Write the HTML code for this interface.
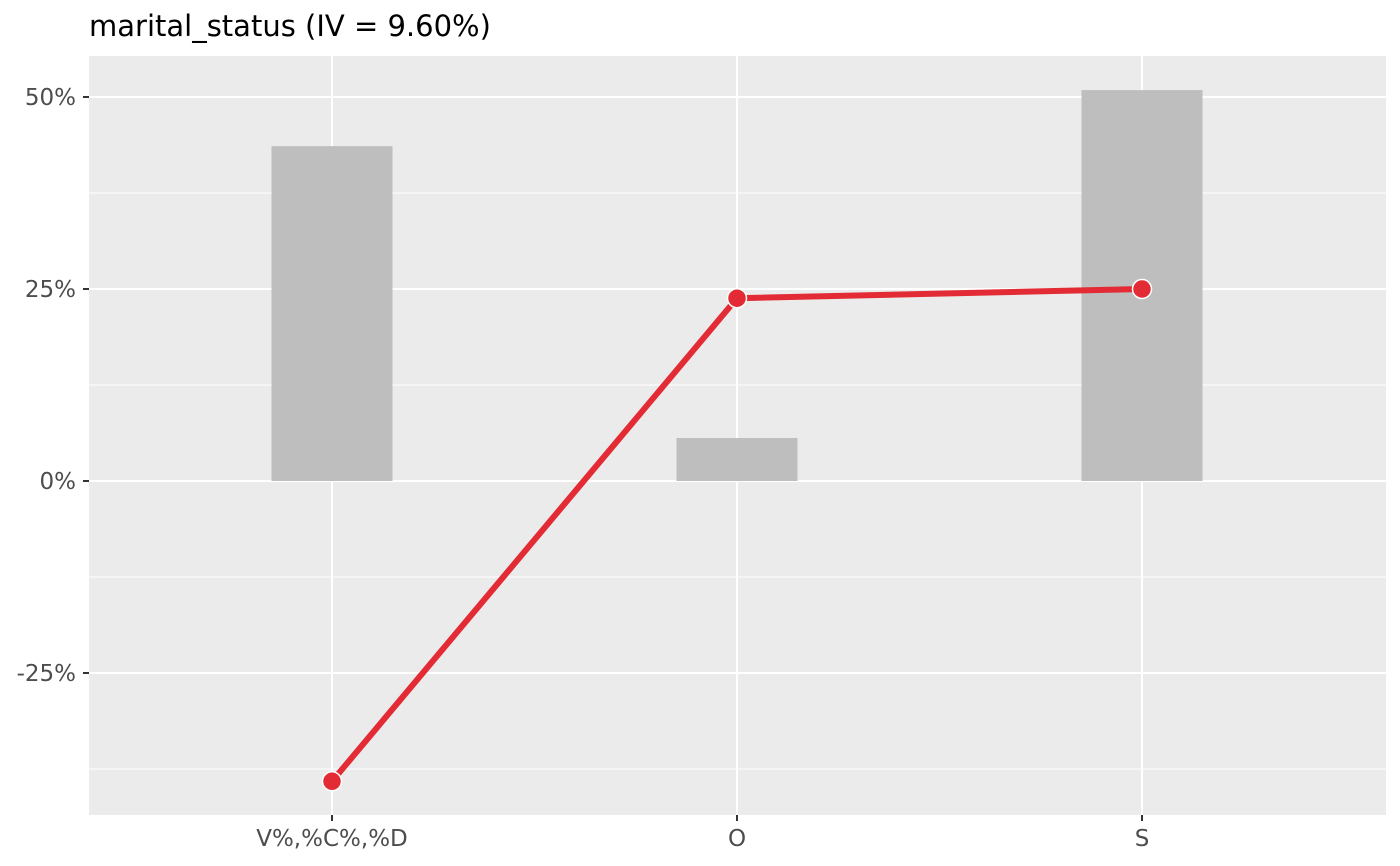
<!DOCTYPE html>
<html><head><meta charset="utf-8"><style>
body{margin:0;background:#fff;}
svg{display:block;font-family:"DejaVu Sans","Liberation Sans",sans-serif;}
</style></head><body>
<svg id="chart" width="1400" height="866">
<text x="89" y="36" font-size="29" fill="#000">marital_status (IV = 9.60%)</text>
<rect x="89" y="56" width="1297" height="759" fill="#ebebeb"/>
<g id="grid"></g><g id="bars"></g><g id="line"></g><g id="axes"></g>
</svg>
<script>
const categories = ["V%,%C%,%D", "O", "S"];
const barValues = [43.6, 5.6, 50.9];
const lineValues = [-39.1, 23.8, 25.0];
const yTicks = [-25, 0, 25, 50];
const yTickLabels = ["-25%", "0%", "25%", "50%"];
const yMinor = [-37.5, -12.5, 12.5, 37.5];

const NS = "http://www.w3.org/2000/svg";
const y = v => 481 - v * 7.68;
const x = i => 332 + i * 405;
function mk(tag, attrs, parent, text) {
  const el = document.createElementNS(NS, tag);
  for (const k in attrs) el.setAttribute(k, attrs[k]);
  if (text !== undefined) el.textContent = text;
  document.getElementById(parent).appendChild(el);
  return el;
}
yMinor.forEach(v => {
  const el = mk("line", {x1: 89, x2: 1386, y1: y(v), y2: y(v), stroke: "#fff", "stroke-width": 1}, "grid");
  
  
});
yTicks.forEach((v, i) => {
  const el = mk("line", {x1: 89, x2: 1386, y1: y(v), y2: y(v), stroke: "#fff", "stroke-width": 2}, "grid");
  
  
  const t = mk("line", {x1: 83, x2: 89, y1: y(v), y2: y(v), stroke: "#333", "stroke-width": 2}, "axes");
  
  
  const l = mk("text", {x: 76, y: y(v) + 8, "font-size": 23, fill: "#4d4d4d", "text-anchor": "end"}, "axes", yTickLabels[i]);
  
  
});
categories.forEach((c, i) => {
  const g = mk("line", {x1: x(i), x2: x(i), y1: 56, y2: 815, stroke: "#fff", "stroke-width": 2}, "grid");
  
  
  const t = mk("line", {x1: x(i), x2: x(i), y1: 815, y2: 821, stroke: "#333", "stroke-width": 2}, "axes");
  
  
  const l = mk("text", {x: x(i), y: 846, "font-size": 23, fill: "#4d4d4d", "text-anchor": "middle"}, "axes", c);
  
  
  const v = barValues[i];
  const b = mk("rect", {x: x(i) - 60.5, width: 121, y: Math.min(y(v), y(0)), height: Math.abs(y(v) - y(0)), fill: "#bebebe"}, "bars");
  
  
});
const pl = mk("polyline", {points: lineValues.map((v, i) => x(i) + "," + y(v)).join(" "), fill: "none", stroke: "#e32b35", "stroke-width": 6, "stroke-linejoin": "round"}, "line");


lineValues.forEach((v, i) => {
  const c = mk("circle", {cx: x(i), cy: y(v), r: 9.5, fill: "#e32b35", stroke: "#fff", "stroke-width": 1.5}, "line");
  
  
});
</script>
</body></html>
